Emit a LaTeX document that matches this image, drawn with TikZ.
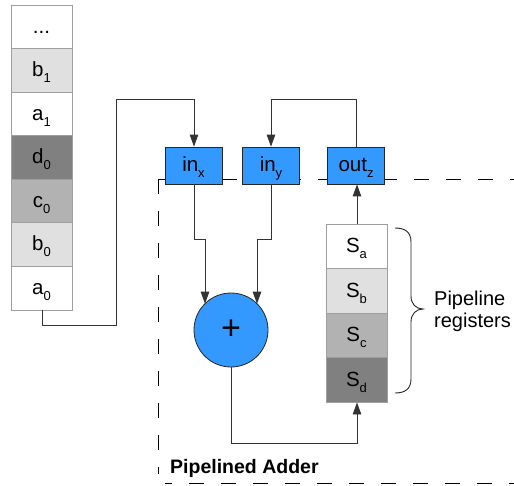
\documentclass[tikz,border=0pt]{standalone}
\usepackage{fontspec}
\setmainfont{Liberation Sans}
\usetikzlibrary{arrows.meta}
\definecolor{adderblue}{HTML}{3399FF}
\definecolor{lightcell}{HTML}{E0E0E0}
\definecolor{midcell}{HTML}{B2B2B2}
\definecolor{darkcell}{HTML}{808080}
\definecolor{wire}{HTML}{333333}
% lowered small index, kept out of the node's height and depth
\newcommand{\lowsub}[1]{\raisebox{-6pt}[0pt][0pt]{\fontsize{13}{13}\selectfont #1}}
\begin{document}
\begin{tikzpicture}[x=1pt,y=-1pt,
  label text/.style={font=\fontsize{20.5}{20.5}\selectfont, text height=12.5pt, text depth=0pt, inner sep=0pt},
  cell/.style={label text, draw=gray!75, line width=0.8pt, minimum width=61pt, minimum height=43.6pt},
  reg/.style={label text, draw=gray!75, line width=0.8pt, minimum width=61pt, minimum height=44.5pt},
  port/.style={label text, draw=black!85, fill=adderblue, line width=0.8pt, minimum width=57pt, minimum height=37pt},
  wire/.style={draw=wire, line width=0.9pt},
  arrow/.style={wire, -{Triangle[length=12pt,width=8.5pt]}},
  boundary/.style={draw=black, line width=1pt, dash pattern=on 15pt off 17pt}
]
\useasboundingbox (0,0) rectangle (514,485);

% dashed outline of the adder unit
\draw[boundary] (158,179) -- (514,179);
\draw[boundary] (158,179) -- (158,474);
\draw[boundary, dash phase=8pt] (165,483) -- (514,483);

% input stream
\node[cell, fill=white]     (dots) at (41.5,26.8)  {...};
\node[cell, fill=lightcell] (b1)   at (41.5,70.4)  {b\lowsub{1}};
\node[cell, fill=white]     (a1)   at (41.5,113.9) {a\lowsub{1}};
\node[cell, fill=darkcell]  (d0)   at (41.5,157.5) {d\lowsub{0}};
\node[cell, fill=midcell]   (c0)   at (41.5,201.1) {c\lowsub{0}};
\node[cell, fill=lightcell] (b0)   at (41.5,244.6) {b\lowsub{0}};
\node[cell, fill=white]     (a0)   at (41.5,288.2) {a\lowsub{0}};

% ports
\node[port] (inx)  at (193.5,165.5) {in\lowsub{x}};
\node[port] (iny)  at (271,165.5)   {in\lowsub{y}};
\node[port] (outz) at (356,165.5)   {out\lowsub{z}};

% adder
\node[circle, draw=black!85, fill=adderblue, line width=0.8pt, minimum size=74pt, inner sep=0pt,
      font=\fontsize{34}{34}\selectfont] (add) at (231,330) {+};

% pipeline registers
\node[reg, fill=white]     (sa) at (356.5,246.3) {S\lowsub{a}};
\node[reg, fill=lightcell] (sb) at (356.5,290.8) {S\lowsub{b}};
\node[reg, fill=midcell]   (sc) at (356.5,335.3) {S\lowsub{c}};
\node[reg, fill=darkcell]  (sd) at (356.5,379.8) {S\lowsub{d}};

% wiring
\coordinate (w1) at (42,325);
\coordinate (w2) at (116,325);
\coordinate (w3) at (116,99);
\coordinate (w4) at (194,99);
\draw[arrow] (a0.south -| w1) -- (w1) -- (w2) -- (w3) -- (w4) -- (inx.north -| w4);

\coordinate (f1) at (356,99);
\coordinate (f2) at (271,99);
\draw[arrow] (outz.north -| f1) -- (f1) -- (f2) -- (iny.north -| f2);

\coordinate (x1) at (194,239);
\coordinate (x2) at (205,239);
\coordinate (x3) at (205,303.7);
\draw[arrow] (inx.south -| x1) -- (x1) -- (x2) -- (x3);

\coordinate (y1) at (271,239);
\coordinate (y2) at (257,239);
\coordinate (y3) at (257,303.7);
\draw[arrow] (iny.south -| y1) -- (y1) -- (y2) -- (y3);

\coordinate (s1) at (231,443);
\coordinate (s2) at (357,443);
\draw[arrow] (add.south) -- (s1) -- (s2) -- (sd.south -| s2);

\draw[arrow] (sa.north -| s2) -- (outz.south -| s2);

% brace over the registers
\draw[line width=0.9pt, black!85]
  (395,228) .. controls (405,228) and (411,232) .. (411,242)
  -- (411,296) .. controls (411,304) and (416,309) .. (423,309)
  .. controls (416,309) and (411,314) .. (411,322)
  -- (411,379) .. controls (411,389) and (405,393) .. (395,393);

\node[anchor=base west, inner sep=0pt, font=\fontsize{20}{20}\selectfont] (pl1) at (434,305) {Pipeline};
\node[anchor=base west, inner sep=0pt, font=\fontsize{20}{20}\selectfont] (pl2) at (434,327) {registers};

\node[anchor=base west, inner sep=0pt, font=\fontsize{19.5}{19.5}\selectfont\bfseries] (title) at (170,473) {Pipelined Adder};
\end{tikzpicture}
\end{document}
